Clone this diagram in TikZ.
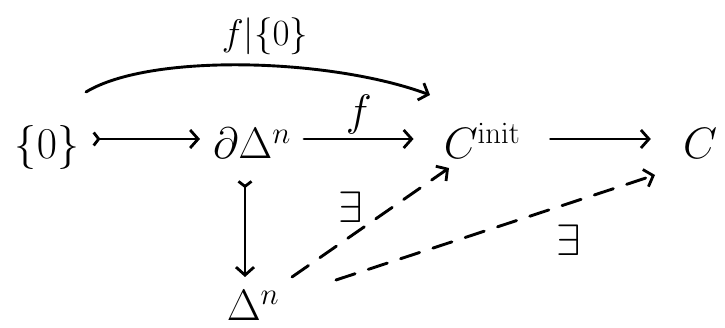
\RequirePackage{fix-cm}
\documentclass[tikz,border=0pt]{standalone}
\usetikzlibrary{arrows.meta}
\begin{document}
\begin{tikzpicture}[x=1pt,y=1pt,
  every node/.style={font=\fontsize{44}{48}\selectfont},
  row/.style={text height=40pt,text depth=0pt,inner ysep=0pt,inner xsep=13pt},
  tip/.tip={Straight Barb[length=8pt,width=18pt,line width=2.8pt]},
  tail/.tip={Straight Barb[reversed,length=5pt,width=13pt,line width=2.8pt]},
  arr/.style={line width=2.9pt,line cap=round,-tip},
  mono/.style={line width=2.9pt,line cap=round,tail-tip},
  dash arr/.style={arr,dash pattern=on 20pt off 14pt},
  lbl/.style={font=\fontsize{37}{40}\selectfont}]
\useasboundingbox (0,0) rectangle (725,328);
\node[row] (z0) at (47,189) {$\{0\}$};
\node[row] (dd) at (252,189) {$\partial\Delta^{n}$};
\node[row,inner xsep=30pt] (ci) at (482,189) {$C^{\mathrm{init}}$};
\node[row,inner xsep=32pt] (c) at (700,189) {$C$};
\node (dn) at (253,23) {$\Delta^{n}$};
\node[lbl] (lf0) at (265,292) {$f|\{0\}$};

\draw[mono] (z0) -- (dd);
\draw[arr] (dd) -- node[above] {$f$} (ci);
\draw[arr] (ci) -- (c);
\draw[mono] ([shift={(-7,-41)}]dd.center) -- ([shift={(-8,28)}]dn.center);
\draw[arr] ([shift={(39,47)}]z0.center) .. controls (150,275) and (330,270) .. ([shift={(-52,44)}]ci.center);
\draw[dash arr] ([shift={(39,28)}]dn.center) -- node[pos=0.46,xshift=-14pt,yshift=20pt] {$\exists$} ([shift={(-33,-29)}]ci.center);
\draw[dash arr] ([shift={(83,25)}]dn.center) -- node[pos=0.695,xshift=11pt,yshift=-33pt] {$\exists$} ([shift={(-45,-36)}]c.center);
\end{tikzpicture}
\end{document}
